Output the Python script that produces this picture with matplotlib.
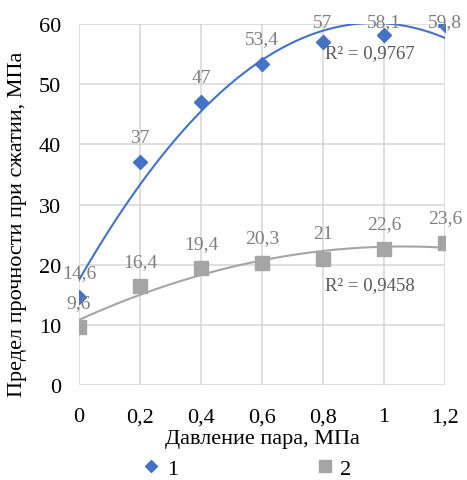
import matplotlib.pyplot as plt
import numpy as np

plt.rcParams['font.family'] = ['Liberation Serif', 'DejaVu Serif']

# data
pressure = [0, 0.2, 0.4, 0.6, 0.8, 1.0, 1.2]
tick_labels = ['0', '0,2', '0,4', '0,6', '0,8', '1', '1,2']
strength_1 = [14.6, 37, 47, 53.4, 57, 58.1, 59.8]
strength_2 = [9.6, 16.4, 19.4, 20.3, 21, 22.6, 23.6]
r2_1 = '0,9767'
r2_2 = '0,9458'

blue = '#4472C4'
grey = '#A5A5A5'
label_col = '#7F7F7F'

fig = plt.figure(figsize=(4.67, 4.81), dpi=100)
ax = fig.add_axes([0.169, 0.1975, 0.784, 0.7505])
ax.set_xlim(0, 1.2)
ax.set_ylim(0, 60)

x = np.array(pressure)
xs = np.linspace(0, 1.2, 200)
px_per_unit = 0.7505 * 481 / 60.0
for ys, col, mk, ms in [(strength_1, blue, 'D', 7.5), (strength_2, grey, 's', 9.5)]:
    c = np.polyfit(x, ys, 2)
    ax.plot(xs, np.polyval(c, xs), color=col, lw=1.5, zorder=2)
    ax.plot(x, ys, linestyle='none', marker=mk, color=col, markersize=ms, zorder=3)
    for xi, yi in zip(x, ys):
        # label centre ~25 px above the point, but kept inside the figure top
        room = (60 - yi) * px_per_unit + 25 - 23
        off = min(25, room)
        ax.annotate(f'{yi:g}'.replace('.', ','), (xi, yi), xytext=(0, off * 0.72),
                    textcoords='offset points', ha='center', va='center',
                    fontsize=14, color=label_col, zorder=4)

ax.text(0.805, 55.2, 'R² = ' + r2_1, fontsize=13.5, color='#595959', va='center')
ax.text(0.805, 16.7, 'R² = ' + r2_2, fontsize=13.5, color='#595959', va='center')

ax.set_xticks(pressure)
ax.set_xticklabels(tick_labels)
ax.set_yticks(range(0, 61, 10))
ax.grid(True, color='#D9D9D9', lw=1.2)
ax.set_axisbelow(True)
for s in ax.spines.values():
    s.set_visible(False)
ax.tick_params(axis='x', length=0, labelsize=16, pad=16)
ax.tick_params(axis='y', length=0, labelsize=16, pad=13)
ax.set_xlabel('Давление пара, МПа', fontsize=16, labelpad=2)
ax.set_ylabel('Предел прочности при сжатии, МПа', fontsize=16)
ax.yaxis.set_label_coords(-0.142, 0.447)

# legend
fig.legend(handles=[plt.Line2D([], [], linestyle='none', marker='D', color=blue, markersize=6.5),
                    plt.Line2D([], [], linestyle='none', marker='s', color=grey, markersize=8)],
           labels=['1', '2'], loc='center', bbox_to_anchor=(0.529, 0.023), ncol=2,
           frameon=False, fontsize=16, columnspacing=6.2, handlelength=0.8,
           handletextpad=0.3, borderpad=0.1)

fig.savefig('out.png', dpi=100)
